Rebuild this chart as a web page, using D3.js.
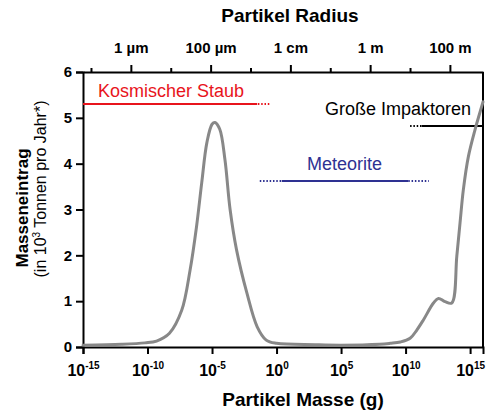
<!DOCTYPE html>
<html>
<head>
<meta charset="utf-8">
<script src="https://cdn.jsdelivr.net/npm/d3@7"></script>
<style>
  body { margin: 0; background: #fff; }
  text { font-family: "Liberation Sans", Arial, sans-serif; }
</style>
</head>
<body>
<div class="chart"></div>
<script>
// log10 of particle mass (g) and mass input (10^3 t per year)
const massExp = [-15, -12, -10.2, -9.3, -8.3, -7.35, -6.7, -6.2, -5.8, -5.4, -5.0, -4.77, -4.4, -4.0, -3.6, -3.1, -2.3, -1.5, -0.8, 0, 3, 5, 8, 8.8, 9.6, 10.35, 10.87, 11.38, 12.16, 12.54, 13.06, 13.58, 13.97, 14.22, 14.48, 14.87, 15.39, 15.91, 16];
const influx  = [0.04, 0.06, 0.09, 0.13, 0.3, 0.8, 1.68, 2.63, 3.58, 4.46, 4.86, 4.9, 4.75, 4.09, 3.0, 2.12, 1.18, 0.44, 0.15, 0.08, 0.05, 0.04, 0.06, 0.08, 0.11, 0.19, 0.37, 0.59, 0.96, 1.06, 0.99, 0.96, 1.98, 2.71, 3.44, 4.16, 4.75, 5.26, 5.35];

const massTicks = [-15, -10, -5, 0, 5, 10, 15];
const yTicks = [0, 1, 2, 3, 4, 5, 6];

// top axis: particle radius in m (log10)
const radiusTicks = [-7, -6, -5, -4, -3, -2, -1, 0, 1, 2];
const radiusLabels = {'-6': '1 µm', '-4': '100 µm', '-2': '1 cm', '0': '1 m', '2': '100 m'};

// size ranges of the three populations (log10 mass), dotted ends
const ranges = [
  {name: 'Kosmischer Staub', value: 5.3, dotFrom: -15, from: -15, to: -1.5, dotTo: -0.5, color: '#e8141c'},
  {name: 'Meteorite', value: 3.62, dotFrom: -1.3, from: 0.4, to: 10.2, dotTo: 11.8, color: '#2e3192'},
  {name: 'Große Impaktoren', value: 4.82, dotFrom: 10.35, from: 11.25, to: 16, dotTo: 16, color: '#000'}
];

const margin = ({top: 72, right: 10, bottom: 64, left: 83});
const W = 493, H = 411;
const width = W - margin.left - margin.right;
const height = H - margin.top - margin.bottom;

const svg = d3.select('.chart')
  .append('svg')
  .attr('width', W)
  .attr('height', H);

const g = svg.append('g')
  .attr('transform', `translate(${margin.left},${margin.top})`);

const x = d3.scaleLog()
  .domain([1e-15, 1e16])
  .range([0, width]);

const xr = d3.scaleLog()
  .domain([Math.pow(10, -7.2), Math.pow(10, 2.83)])
  .range([0, width]);

const y = d3.scaleLinear()
  .domain([0, 6])
  .range([height, 0]);

// bottom axis
const xAxis = d3.axisBottom(x)
  .tickValues(massTicks.map(e => Math.pow(10, e)))
  .tickSize(7)
  .tickFormat('');

const xg = g.append('g')
  .attr('class', 'axis x-axis')
  .attr('transform', `translate(0,${height})`)
  .call(xAxis);

xg.selectAll('.tick')
  .data(massTicks)
  .append('text')
  .attr('y', 29)
  .attr('fill', '#000')
  .attr('text-anchor', 'middle')
  .attr('font-weight', 'bold')
  .attr('font-size', 16)
  .each(function(e) {
    const t = d3.select(this);
    t.append('tspan').text('10');
    t.append('tspan').attr('dy', -7).attr('font-size', 10).text(e);
  });

// left axis
const yAxis = d3.axisLeft(y)
  .tickValues(yTicks)
  .tickSize(7)
  .tickPadding(4)
  .tickFormat(d3.format('d'));

g.append('g')
  .attr('class', 'axis y-axis')
  .call(yAxis)
  .call(a => a.selectAll('text')
    .attr('font-size', 15)
    .attr('font-weight', 'bold')
    .attr('font-family', '"Liberation Sans", Arial, sans-serif'));

// top axis
const topAxis = d3.axisTop(xr)
  .tickValues(radiusTicks.map(e => Math.pow(10, e)))
  .tickSize(0)
  .tickFormat('');

const tg = g.append('g')
  .attr('class', 'axis top-axis')
  .call(topAxis);

tg.selectAll('.tick')
  .data(radiusTicks)
  .call(t => t.select('line')
    .attr('y2', e => radiusLabels[e] ? -7 : -4))
  .filter(e => radiusLabels[e])
  .append('text')
  .attr('y', -19)
  .attr('fill', '#000')
  .attr('text-anchor', 'middle')
  .attr('font-weight', 'bold')
  .attr('font-size', 15)
  .text(e => radiusLabels[e]);

// right border
g.append('line')
  .attr('x1', width).attr('x2', width)
  .attr('y1', 0).attr('y2', height)
  .attr('stroke', '#000');

svg.selectAll('.axis path, .axis line, line')
  .attr('stroke', '#000')
  .attr('stroke-width', 2);

// axis titles
svg.append('text')
  .attr('x', 290).attr('y', 22)
  .attr('text-anchor', 'middle')
  .attr('font-weight', 'bold')
  .attr('font-size', 19)
  .text('Partikel Radius');

svg.append('text')
  .attr('x', 303).attr('y', 406)
  .attr('text-anchor', 'middle')
  .attr('font-weight', 'bold')
  .attr('font-size', 19)
  .text('Partikel Masse (g)');

svg.append('text')
  .attr('transform', 'translate(28,208) rotate(-90)')
  .attr('text-anchor', 'middle')
  .attr('font-weight', 'bold')
  .attr('font-size', 17)
  .text('Masseneintrag');

const sub = svg.append('text')
  .attr('transform', 'translate(46,189) rotate(-90)')
  .attr('text-anchor', 'middle')
  .attr('font-size', 16);
sub.append('tspan').text('(in 10');
sub.append('tspan').attr('dy', -6).attr('font-size', 10).text('3');
sub.append('tspan').attr('dy', 6).text(' Tonnen pro Jahr*)');

// range bars
const rg = g.selectAll('.range')
  .data(ranges)
  .enter()
  .append('g')
  .attr('class', 'range');

rg.append('line')
  .attr('x1', d => x(Math.pow(10, d.dotFrom)))
  .attr('x2', d => x(Math.pow(10, d.dotTo)))
  .attr('y1', d => y(d.value))
  .attr('y2', d => y(d.value))
  .attr('stroke', d => d.color)
  .attr('stroke-width', 2)
  .attr('stroke-dasharray', '1.5,1.8');

rg.append('line')
  .attr('x1', d => x(Math.pow(10, d.from)))
  .attr('x2', d => x(Math.pow(10, d.to)))
  .attr('y1', d => y(d.value))
  .attr('y2', d => y(d.value))
  .attr('stroke', d => d.color)
  .attr('stroke-width', 2);

const labelPos = [
  {x: 15, dy: -7, anchor: 'start'},
  {x: 261.5, dy: -11, anchor: 'middle'},
  {x: 388, dy: -11, anchor: 'end'}
];

rg.append('text')
  .attr('x', (d, i) => labelPos[i].x)
  .attr('y', (d, i) => y(d.value) + labelPos[i].dy)
  .attr('text-anchor', (d, i) => labelPos[i].anchor)
  .attr('fill', d => d.color)
  .attr('font-size', 18)
  .text(d => d.name);

// curve
const line = d3.line()
  .curve(d3.curveCatmullRom)
  .x(d => x(Math.pow(10, d[0])))
  .y(d => y(d[1]));

g.append('path')
  .datum(d3.zip(massExp, influx))
  .attr('d', line)
  .attr('fill', 'none')
  .attr('stroke', '#888')
  .attr('stroke-width', 3)
  .attr('stroke-linejoin', 'round')
  .attr('stroke-linecap', 'round');
</script>
</body>
</html>
